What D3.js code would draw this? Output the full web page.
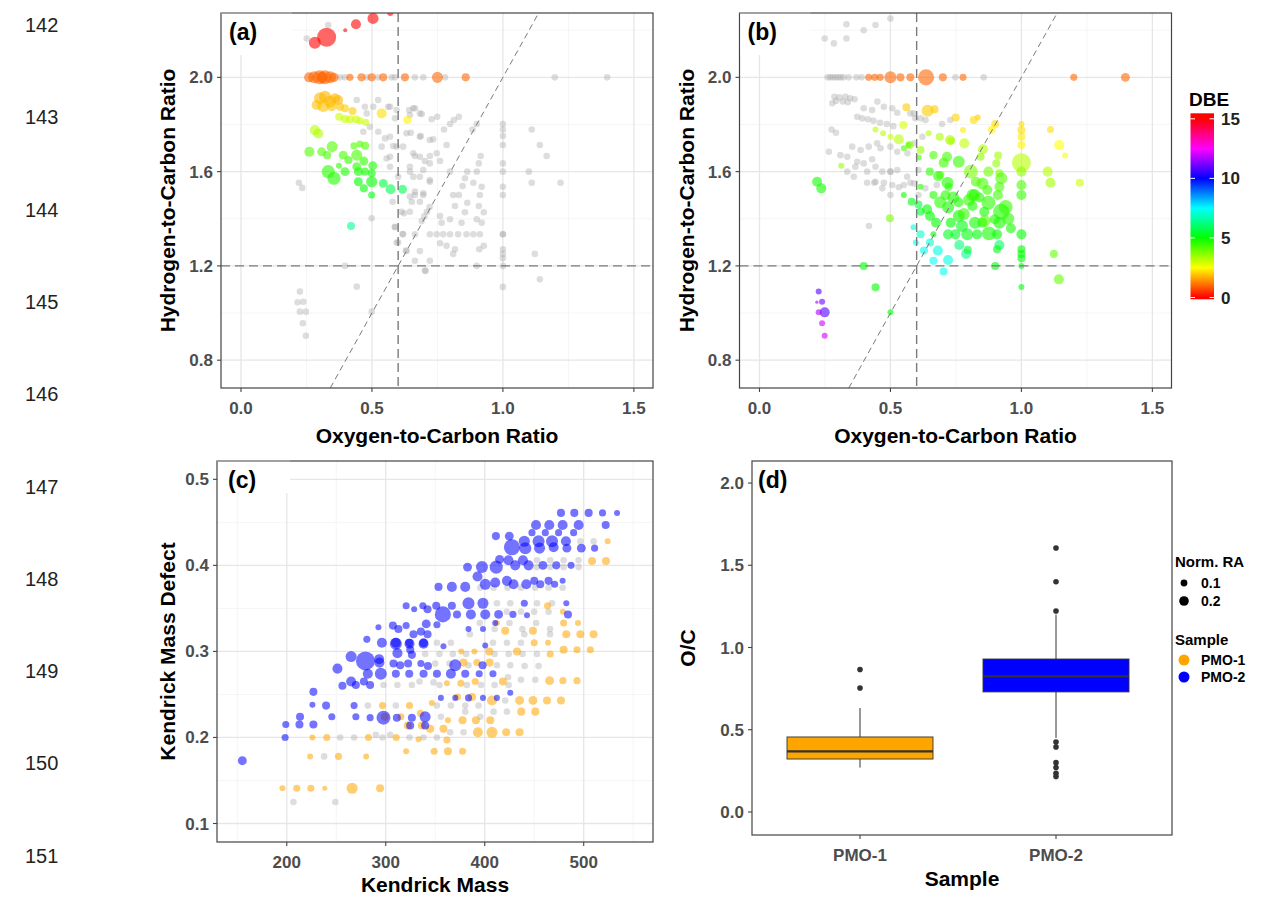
<!DOCTYPE html>
<html><head><meta charset="utf-8">
<script src="https://cdn.jsdelivr.net/npm/d3@7"></script>
<style>
body{margin:0;background:#fff;}
svg{display:block;font-family:"Liberation Sans",Arial,Helvetica,sans-serif;}
</style>
</head><body>
<svg id="fig" width="1269" height="898"></svg>
<script>
// ---------- manuscript line numbers ----------
const lineNumbers = [142, 143, 144, 145, 146, 147, 148, 149, 150, 151];

// ---------- (a) PMO-1 van Krevelen: [O/C, H/C] formulas shared with PMO-2 ----------
const sharedA = [
  [0.378,2.0],[0.397,2.0],[0.48,2.0],[0.523,2.0],[0.575,2.0],[0.588,2.0],[0.664,2.0],[0.696,2.0],[0.779,2.0],[1.198,2.0],[1.398,2.0],
  [0.333,2.222],[0.251,2.165],
  [0.562,1.875],[0.642,1.861],[0.664,1.869],[0.69,1.844],[0.749,1.833],[0.728,1.822],[0.832,1.833],[0.813,1.819],[0.798,1.802],[0.775,1.779],
  [0.9,1.802],[0.884,1.779],[1.0,1.802],[1.0,1.779],[1.0,1.751],[1.0,1.713],[1.11,1.779],[1.141,1.713],[1.167,1.666],[0.915,1.666],[0.908,1.635],
  [0.864,1.6],[0.9,1.6],[1.099,1.6],[1.11,1.553],[1.22,1.553],[1.0,1.635],[1.0,1.6],[1.0,1.536],[1.0,1.501],[0.919,1.536],[0.887,1.553],
  [0.855,1.572],[0.846,1.539],[0.81,1.501],[0.832,1.501],[0.912,1.501],[0.785,1.713],[0.721,1.666],[0.76,1.645],[0.734,1.737],[0.686,1.751],
  [0.648,1.765],[0.619,1.706],[0.581,1.709],[0.55,1.741],[0.569,1.663],[0.645,1.6],[0.683,1.578],[0.721,1.557],[0.664,1.666],[0.702,1.645],[0.798,1.6],
  [0.864,1.468],[0.908,1.454],[0.927,1.428],[0.817,1.454],[0.855,1.428],[0.76,1.412],[0.766,1.383],[0.798,1.398],[0.842,1.383],[0.9,1.398],
  [0.919,1.383],[0.696,1.501],[0.664,1.501],[0.652,1.472],[0.683,1.472],[0.645,1.43],[0.613,1.43],[0.588,1.366],[0.619,1.334],[0.664,1.334],
  [0.721,1.334],[0.747,1.334],[0.772,1.334],[0.798,1.334],[0.829,1.334],[0.861,1.334],[0.887,1.334],[0.912,1.334],[1.0,1.334],[1.0,1.334],
  [0.76,1.296],[0.785,1.285],[0.817,1.271],[0.81,1.251],[0.91,1.271],[0.927,1.285],[1.0,1.271],[1.0,1.251],[1.0,1.232],[1.122,1.251],
  [0.683,1.263],[0.632,1.263],[0.594,1.299],[0.664,1.222],[0.721,1.222],[0.705,1.179],[0.9,1.2],[1.0,1.2],[1.141,1.143],[1.0,1.111],
  [0.221,1.553],[0.234,1.531],[0.499,1.402],[0.579,1.472],[0.588,1.364],[0.6,1.299],[0.617,1.335],[0.63,1.265],[0.397,1.2],[0.442,1.112],
  [0.499,1.006],[0.225,1.091],[0.216,1.046],[0.238,1.048],[0.225,1.006],[0.248,1.006],[0.236,0.957],[0.248,0.904],[0.622,1.423],[0.702,1.18],
  [0.442,1.904],[0.473,1.875],[0.505,1.875],[0.569,1.875],[0.658,1.869],[0.683,1.847],[0.645,1.84],[0.588,1.826],[0.492,1.79],[0.524,1.769],
  [0.569,1.748],[0.467,1.769],[0.594,1.706],[0.632,1.763],[0.683,1.748],[0.658,1.678],[0.721,1.734],[0.683,1.663],[0.721,1.635],[0.747,1.678],
  [0.645,1.621],[0.696,1.607],[0.556,1.656],[0.537,1.706],[0.569,1.621],[0.6,1.578],[0.658,1.578],[0.721,1.564],[0.664,1.515],[0.696,1.508],
  [0.645,1.494],[0.48,1.847],[0.524,1.904],[0.594,1.861],[0.69,1.39],[0.70,1.41],[0.71,1.43],[0.72,1.45]
];
// (a) formulas unique to PMO-1: [O/C, H/C, normalised RA, DBE]
const uniqueA = [
  [0.504,2.25,0.17,0],[0.439,2.225,0.14,0],[0.398,2.2,0.022,0],[0.327,2.17,0.5,0],[0.282,2.147,0.2,0],[0.57,2.273,0.05,0],
  [0.26,2.0,0.14,1],[0.28,2.0,0.2,1],[0.30,2.0,0.27,1],[0.31,2.0,0.17,1],[0.32,2.0,0.27,1],[0.34,2.0,0.2,1],[0.355,2.0,0.12,1],
  [0.416,2.0,0.07,1],[0.46,2.0,0.09,1],[0.499,2.0,0.09,1],[0.543,2.0,0.09,1],[0.626,2.0,0.09,1],[0.75,2.0,0.17,1],[0.858,2.0,0.09,1],
  [0.302,1.911,0.2,1.8],[0.321,1.918,0.2,1.8],[0.359,1.911,0.14,1.8],[0.34,1.897,0.2,1.8],[0.371,1.904,0.14,1.8],[0.289,1.883,0.14,1.9],
  [0.314,1.878,0.2,1.9],[0.346,1.878,0.14,1.9],[0.378,1.875,0.09,1.9],[0.397,1.869,0.09,2],[0.426,1.857,0.09,2],[0.537,1.847,0.14,2.2],[0.635,1.819,0.09,2.4],
  [0.375,1.833,0.09,3],[0.397,1.823,0.09,3],[0.416,1.822,0.09,3],[0.439,1.822,0.09,3],[0.454,1.816,0.07,3],[0.476,1.809,0.07,3],
  [0.282,1.776,0.14,3.2],[0.295,1.762,0.14,3.3],
  [0.261,1.684,0.14,4.2],[0.308,1.684,0.11,4.2],[0.348,1.706,0.17,4.2],[0.329,1.67,0.09,4.3],[0.39,1.67,0.11,4.3],[0.41,1.649,0.09,4.5],
  [0.442,1.67,0.17,4.3],[0.431,1.71,0.07,4.2],[0.454,1.717,0.07,4.2],[0.474,1.71,0.09,4.2],[0.469,1.645,0.11,4.5],[0.442,1.621,0.11,4.6],
  [0.374,1.625,0.05,4.6],[0.333,1.6,0.24,4.6],[0.355,1.572,0.24,4.7],[0.397,1.6,0.11,4.7],[0.503,1.625,0.11,4.7],[0.448,1.6,0.11,4.8],
  [0.473,1.6,0.09,4.8],[0.499,1.593,0.09,4.9],[0.499,1.557,0.17,5],[0.448,1.557,0.11,5],[0.469,1.529,0.09,5],[0.499,1.501,0.07,5.2],
  [0.543,1.55,0.11,5.6],[0.571,1.525,0.14,5.8],[0.617,1.525,0.11,5.8],
  [0.42,1.369,0.09,6.5]
];

// ---------- (b) PMO-2 van Krevelen ----------
const sharedB = [
  [0.249,2.165],[0.284,2.144],[0.332,2.225],[0.332,2.165],[0.398,2.2],[0.443,2.222],[0.5,2.25],
  [0.26,2.0],[0.27,2.0],[0.28,2.0],[0.29,2.0],[0.30,2.0],[0.31,2.0],[0.32,2.0],[0.34,2.0],[0.37,2.0],[0.39,2.0],[0.748,2.0],[0.856,2.0],
  [0.286,1.918],[0.305,1.915],[0.328,1.918],[0.346,1.911],[0.363,1.907],[0.292,1.9],[0.318,1.897],[0.337,1.894],[0.278,1.89],
  [0.398,1.869],[0.43,1.861],[0.45,1.897],[0.475,1.875],[0.507,1.869],[0.526,1.85],[0.59,1.847],[0.615,1.826],
  [0.373,1.833],[0.392,1.826],[0.414,1.822],[0.435,1.816],[0.46,1.807],[0.486,1.802],[0.511,1.793],
  [0.275,1.779],[0.292,1.765],
  [0.265,1.684],[0.309,1.67],[0.335,1.663],[0.354,1.706],[0.386,1.692],[0.417,1.706],[0.449,1.72],[0.462,1.699],[0.5,1.706],[0.526,1.684],
  [0.335,1.6],[0.366,1.621],[0.398,1.635],[0.43,1.652],[0.411,1.6],[0.443,1.621],[0.469,1.6],[0.5,1.6],[0.5,1.6],[0.526,1.607],[0.36,1.578],
  [0.443,1.557],[0.475,1.553],[0.507,1.543],[0.469,1.529],[0.5,1.501],[0.411,1.553],[0.373,1.642],
  [0.418,1.369],[0.438,1.553],[0.532,1.534],[0.551,1.543],[0.576,1.553],[0.607,1.501],[0.633,1.529],[0.677,1.543],
  [0.576,1.847],[0.595,1.826],[0.634,1.819],[0.697,1.802],[0.729,1.819],[0.622,1.748],[0.59,1.72],[0.565,1.678],[0.607,1.607],[0.564,1.578],[0.59,1.55]
];
// (b) formulas unique to PMO-2: [O/C, H/C, normalised RA, DBE]
const uniqueB = [
  [0.417,2.0,0.07,1],[0.44,2.0,0.07,1],[0.461,2.0,0.07,1],[0.5,2.0,0.2,1],[0.538,2.0,0.09,1],[0.576,2.0,0.09,1],[0.636,2.0,0.36,1],
  [0.7,2.0,0.09,1],[0.777,2.0,0.07,1],[1.2,2.0,0.07,1],[1.397,2.0,0.11,1],
  [0.561,1.873,0.09,2],[0.642,1.858,0.2,2],[0.668,1.864,0.09,2],[0.749,1.83,0.09,2.1],[0.777,1.777,0.05,2.3],[0.833,1.83,0.05,2],
  [0.818,1.819,0.09,2.2],[0.9,1.802,0.09,2.2],[0.887,1.779,0.09,2.4],[1.0,1.802,0.05,2.2],[1.0,1.777,0.09,2.2],[1.0,1.748,0.09,2.3],
  [1.0,1.713,0.09,2.4],[1.111,1.779,0.07,2.2],[1.144,1.713,0.14,2.5],[1.167,1.668,0.05,2.6],[1.223,1.553,0.09,3],
  [0.549,1.798,0.09,2.9],[0.443,1.779,0.05,3.2],[0.472,1.763,0.05,3.2],[0.5,1.748,0.05,3],[0.532,1.737,0.14,3.2],[0.551,1.699,0.05,4.3],
  [0.573,1.713,0.09,3.5],[0.615,1.692,0.09,3.5],[0.646,1.763,0.05,3.2],[0.688,1.748,0.09,3.3],[0.727,1.734,0.14,3.2],[0.782,1.72,0.14,3.1],
  [0.731,1.731,0.09,3.4],[0.312,1.625,0.05,3.5],
  [1.0,1.638,0.5,3.2],
  [1.1,1.6,0.14,3.2],[1.111,1.553,0.14,3.4],[1.0,1.6,0.14,3.6],[1.0,1.543,0.14,4.3],[1.0,1.501,0.14,4.5],[0.911,1.668,0.09,3.4],
  [0.904,1.635,0.09,3.6],[0.916,1.593,0.09,3.8],[0.923,1.572,0.2,4.2],[0.916,1.536,0.14,4.3],[0.91,1.501,0.14,4.4],[0.874,1.6,0.14,3.9],
  [0.853,1.695,0.14,3.3],[0.844,1.663,0.09,3.6],[0.851,1.55,0.2,4.3],[0.87,1.522,0.14,4.4],[0.813,1.501,0.2,4.5],[0.826,1.557,0.14,4.2],[0.807,1.6,0.27,3.8],
  [0.664,1.67,0.09,4.3],[0.716,1.663,0.14,4.4],[0.761,1.642,0.2,4.5],[0.703,1.638,0.14,4.4],[0.65,1.6,0.09,4.6],[0.682,1.581,0.14,4.6],
  [0.718,1.553,0.2,4.7],[0.22,1.557,0.14,4.8],[0.236,1.529,0.14,4.8],[0.551,1.501,0.05,4.9],[0.615,1.536,0.05,4.6],[0.664,1.501,0.09,4.7],
  [0.722,1.536,0.09,4.6],[0.69,1.586,0.09,4.4],[0.608,1.66,0.05,4.4],[0.569,1.713,0.05,4.2],
  [0.874,1.468,0.27,4.6],[0.923,1.43,0.36,4.7],[0.916,1.383,0.2,4.8],[0.898,1.398,0.14,4.7],[0.858,1.43,0.14,4.8],[0.851,1.383,0.14,4.9],
  [0.821,1.501,0.2,4.7],[0.813,1.454,0.14,4.8],[0.761,1.412,0.2,4.9],[0.823,1.383,0.2,4.9],[0.73,1.383,0.14,5],[0.773,1.369,0.2,5.2],
  [0.72,1.334,0.14,5.3],[0.748,1.334,0.14,5.3],[0.793,1.334,0.2,5.2],[0.831,1.334,0.14,5.1],[0.876,1.338,0.27,4.8],[0.907,1.334,0.14,5],
  [1.0,1.334,0.14,5],[0.763,1.289,0.14,6.2],[0.789,1.251,0.14,6.4],[0.795,1.268,0.09,5.4],[0.916,1.289,0.14,6],[0.907,1.271,0.09,5.2],
  [1.0,1.271,0.09,5],[1.0,1.251,0.09,5],[1.0,1.232,0.09,5.1],[0.9,1.2,0.09,5.1],[1.0,1.2,0.05,5.2],[1.124,1.251,0.09,4],[1.143,1.143,0.14,4],[1.0,1.111,0.05,5.2],
  [0.72,1.225,0.14,7.2],[0.703,1.176,0.09,7.3],[0.664,1.222,0.09,7.4],[0.681,1.265,0.14,7.2],[0.628,1.265,0.09,7.3],[0.615,1.334,0.09,7],
  [0.597,1.299,0.05,7.4],[0.588,1.364,0.05,7.2],[0.651,1.299,0.09,7.1],
  [0.674,1.383,0.14,5],[0.72,1.449,0.2,4.8],[0.651,1.412,0.14,5],[0.615,1.43,0.09,5.4],[0.581,1.472,0.09,5.2],[0.498,1.402,0.09,3.8],
  [0.398,1.2,0.09,5],[0.443,1.109,0.09,5],[0.5,1.003,0.05,5],[0.664,1.334,0.05,5],[0.607,1.46,0.09,5.5],[0.64,1.44,0.14,5],
  [0.69,1.47,0.2,4.6],[0.71,1.5,0.14,4.6],[0.74,1.49,0.2,4.7],[0.76,1.47,0.14,4.7],[0.78,1.42,0.2,4.5],[0.8,1.48,0.2,4.5],
  [0.84,1.49,0.14,4.6],[0.86,1.39,0.2,4.2],[0.94,1.45,0.27,4.5],[0.95,1.40,0.2,4.6],[0.96,1.36,0.14,4.8],
  [0.226,1.091,0.05,10.8],[0.239,1.048,0.05,11],[0.219,1.046,0.015,11.5],[0.249,1.003,0.14,10.8],[0.226,1.003,0.05,11.7],[0.239,0.957,0.05,12],[0.249,0.904,0.05,12]
];

// ---------- (c) Kendrick mass vs. defect: [KM, KMD] shared, [KM, KMD, RA] per sample ----------
const kendrickShared = [
  [206.7,0.125],[249.1,0.125],[237.7,0.178],[253.9,0.2],[268,0.2],[296.7,0.2],[304.5,0.203],[324,0.2],[338.1,0.2],[351.7,0.2],[290,0.203],
  [365.1,0.206],[378.6,0.206],[281.9,0.237],[310.2,0.237],[351.7,0.237],[365.8,0.237],[380.3,0.237],[393.7,0.237],[355.7,0.224],[395.5,0.224],
  [380.3,0.23],[408.9,0.23],[422.5,0.23],[420.7,0.243],[297.7,0.261],[311.8,0.261],[326.4,0.261],[334.1,0.265],[348.2,0.264],[354.3,0.261],
  [382,0.261],[396.2,0.261],[409.9,0.261],[424.1,0.261],[436.6,0.267],[451.1,0.267],[350,0.286],[364.4,0.286],[383.6,0.284],[412.3,0.284],
  [425.8,0.284],[440.3,0.283],[454.4,0.283],[339.8,0.297],[354.3,0.297],[367.8,0.297],[381.3,0.297],[409.9,0.297],[424.1,0.297],[438.2,0.297],
  [452.8,0.297],[351.7,0.31],[365.8,0.31],[408.3,0.31],[422.5,0.31],[436.6,0.31],[423.5,0.27],
  [412.3,0.356],[425.8,0.356],[452.8,0.356],[468,0.356],[422.4,0.346],[436.6,0.346],[450,0.346],[464.5,0.346],
  [395.5,0.374],[408.9,0.374],[423,0.374],[436.6,0.374],[451,0.374],[464.5,0.374],[478.7,0.374],
  [452.8,0.406],[466.2,0.406],[479.7,0.406],[494.8,0.406],[452.8,0.398],[466.2,0.398],[479.7,0.398],[494.8,0.398],
  [496.6,0.428],[510,0.428],
  [395,0.333],[410,0.326],[425,0.333],[438,0.326],[452,0.333],[466,0.326],[385,0.32],[440,0.32],[466,0.32]
];
const kendrickPMO1 = [
  [524.2,0.428,0.05],[508.4,0.405,0.09],[522.5,0.405,0.09],[463.5,0.353,0.07],[479,0.346,0.05],[412.3,0.333,0.05],[420.7,0.324,0.09],
  [448.7,0.324,0.09],[479.7,0.333,0.07],[494.2,0.333,0.05],[482.4,0.32,0.09],[496.6,0.32,0.09],[510,0.32,0.09],[450,0.31,0.07],
  [463.9,0.31,0.05],[479.7,0.302,0.09],[493.2,0.302,0.07],[506.7,0.302,0.07],[376.3,0.3,0.05],[389.6,0.3,0.05],[404.5,0.3,0.09],[432.6,0.3,0.09],
  [195.6,0.141,0.05],[210.1,0.141,0.07],[224.3,0.141,0.07],[238.4,0.141,0.035],[266,0.141,0.17],[294.3,0.141,0.09],[223.6,0.178,0.05],
  [252.2,0.178,0.07],[280.2,0.178,0.05],[225.9,0.2,0.05],[240.4,0.2,0.07],[282.5,0.2,0.07],[310.5,0.2,0.07],[333.1,0.198,0.05],
  [361.8,0.197,0.07],[320.6,0.184,0.05],[348.9,0.184,0.07],[362.8,0.184,0.09],[377.6,0.184,0.07],[296.7,0.237,0.07],[324,0.237,0.07],
  [315.3,0.224,0.07],[344.9,0.21,0.09],[358.3,0.21,0.09],[362.8,0.22,0.05],[377.6,0.22,0.09],[391.1,0.22,0.09],[405.6,0.22,0.09],
  [393.1,0.206,0.14],[407.3,0.206,0.17],[421.7,0.206,0.09],[435.2,0.206,0.09],[407.3,0.243,0.14],[435.2,0.243,0.11],[448.7,0.243,0.11],
  [462.9,0.243,0.09],[477,0.243,0.09],[436.9,0.23,0.09],[451.1,0.23,0.09],[418.4,0.265,0.09],[465.5,0.266,0.11],[479,0.266,0.07],
  [493.2,0.266,0.07],[404.9,0.287,0.09],[466.2,0.297,0.07],[378.6,0.287,0.09],[392.1,0.287,0.07],[346.6,0.24,0.05],
  [372.5,0.247,0.07],[387.1,0.247,0.09],[361.8,0.263,0.05],[375.9,0.263,0.07],[390.4,0.265,0.07],[322.3,0.214,0.09],[336.5,0.214,0.09],
  [299,0.224,0.09],[335,0.228,0.07]
];
const kendrickPMO2 = [
  [477,0.461,0.09],[490.5,0.461,0.09],[505,0.461,0.09],[519,0.461,0.07],[533.7,0.461,0.05],
  [451.8,0.447,0.14],[465.2,0.447,0.14],[478.7,0.447,0.14],[494.9,0.447,0.14],[522.2,0.447,0.09],
  [447.7,0.438,0.07],[461.2,0.438,0.07],[474.6,0.438,0.07],[489.8,0.438,0.07],[411.3,0.434,0.09],[424.8,0.434,0.11],
  [427.5,0.421,0.36],[440,0.428,0.17],[441,0.42,0.2],[454.4,0.428,0.2],[455.4,0.42,0.17],[468,0.428,0.2],[469.6,0.421,0.14],
  [482,0.428,0.14],[483,0.42,0.11],[497.6,0.42,0.11],[511,0.42,0.07],
  [382.6,0.398,0.11],[397.2,0.398,0.2],[411.6,0.398,0.24],[415,0.407,0.11],[424,0.406,0.14],[430.8,0.4,0.14],[438.6,0.406,0.14],
  [444.3,0.4,0.14],[458.8,0.4,0.11],[472.3,0.4,0.09],[487.2,0.4,0.07],
  [353.3,0.375,0.09],[366.8,0.375,0.14],[380.3,0.375,0.14],[392.7,0.387,0.14],[400.5,0.378,0.17],[410.6,0.38,0.14],[422.4,0.382,0.14],
  [429.1,0.378,0.14],[442,0.378,0.14],[450,0.382,0.09],[456.1,0.378,0.09],[464.5,0.382,0.09],[470.6,0.378,0.07],[478.7,0.382,0.05],
  [320.6,0.353,0.07],[328.7,0.349,0.05],[337.5,0.353,0.07],[342.2,0.349,0.09],[351,0.353,0.09],[357.7,0.343,0.36],[366.8,0.353,0.09],
  [372,0.343,0.09],[383.6,0.356,0.2],[386,0.343,0.14],[398.2,0.356,0.17],[400.5,0.343,0.14],[414,0.343,0.11],[428.5,0.343,0.07],
  [440,0.356,0.07],[442.7,0.342,0.05],[482.4,0.356,0.05],[484.1,0.343,0.09],
  [383.6,0.326,0.05],[398.2,0.326,0.05],[410.6,0.333,0.05],
  [292.6,0.328,0.05],[307.2,0.33,0.09],[312.8,0.326,0.09],[320.6,0.33,0.07],[280.9,0.314,0.07],[296.1,0.31,0.14],[310.2,0.31,0.14],
  [323.7,0.31,0.09],[328,0.32,0.09],[335.5,0.323,0.09],[340.9,0.332,0.11],[342.2,0.32,0.09],[338.2,0.31,0.11],[351.7,0.331,0.07],
  [265,0.294,0.17],[279.5,0.289,0.5],[293.3,0.291,0.14],[311.8,0.298,0.14],[324.7,0.302,0.09],
  [251.2,0.28,0.14],[265,0.265,0.14],[256.2,0.26,0.09],[269.8,0.261,0.09],[277.9,0.265,0.09],[284.2,0.261,0.09],[281.9,0.274,0.14],
  [295,0.274,0.2],[293.6,0.287,0.14],[307.8,0.286,0.09],[310.2,0.274,0.09],[310.2,0.309,0.2],[324,0.309,0.14],
  [326.4,0.296,0.09],[314.6,0.284,0.09],[322.6,0.286,0.09],[323.7,0.274,0.09],[335.5,0.286,0.07],[338.2,0.274,0.09],[342.6,0.283,0.09],
  [338.2,0.309,0.14],[351.7,0.274,0.09],[365.8,0.274,0.14],[370.2,0.284,0.2],[380.3,0.274,0.09],[394.4,0.274,0.07],[408.3,0.274,0.07],
  [397.8,0.284,0.09],[358.3,0.306,0.05],[400.5,0.307,0.05],
  [226.9,0.253,0.09],[225.9,0.238,0.05],[239.7,0.237,0.09],[245.5,0.224,0.07],[213.4,0.224,0.09],[199,0.215,0.07],[212.8,0.215,0.09],
  [226.9,0.215,0.09],[198.3,0.2,0.07],[155.1,0.173,0.11],
  [268,0.237,0.07],[269.8,0.224,0.07],[284.2,0.223,0.07],[297.7,0.223,0.27],[311.2,0.223,0.09],[326.4,0.223,0.09],[339.8,0.224,0.17],
  [339.8,0.214,0.09],[324.7,0.214,0.09],[355.7,0.246,0.05],[370.2,0.246,0.05],[383.6,0.246,0.07],[398.2,0.246,0.05],[412.3,0.246,0.05],[425.8,0.252,0.05]
];

// ---------- (d) O/C distribution per sample ----------
const samples = ["PMO-1", "PMO-2"];
const boxLow    = [0.27, 0.45];
const boxQ1     = [0.322, 0.73];
const boxMedian = [0.368, 0.825];
const boxQ3     = [0.456, 0.93];
const boxHigh   = [0.632, 1.20];
const boxOutliers = [
  [0.754, 0.866],
  [1.222, 1.40, 1.605, 0.425, 0.395, 0.30, 0.27, 0.235, 0.215]
];
const sampleColors = ["#ffa500", "#0000ff"];

// ---------- shared scales / constants ----------
const sharedRA = 0.06;               // size used for formulas common to both samples
const raLegend = [0.1, 0.2];
const dbeTicks = [0, 5, 10, 15];
const ocLimit = 0.6, hcLimit = 1.2, hcPerOc = 2; // reference lines

const svg = d3.select("#fig");
const size = d3.scaleSqrt().domain([0, 0.5]).range([0, 9.5]);
const dbeColor = d => d3.hsl(d * 24, 1, 0.5).toString();
const fmt1 = d3.format(".1f");

// line numbers down the left margin
svg.append("g").selectAll("text").data(lineNumbers).join("text")
  .attr("x", 25).attr("y", (d, i) => 32 + i * 92.3)
  .attr("font-size", 20).attr("fill", "#222").text(d => d);

let clipId = 0;
function panel(o) {
  const g = svg.append("g");
  const [x0, x1] = o.x.range(), [y1, y0] = o.y.range();
  g.append("rect").attr("x", x0).attr("y", y0).attr("width", x1 - x0).attr("height", y1 - y0).attr("fill", "#fff");
  if (o.grid !== false) {
    g.selectAll(".mnx").data(o.xMinor).join("line").attr("x1", o.x).attr("x2", o.x).attr("y1", y0).attr("y2", y1)
      .attr("stroke", "#f2f2f2").attr("stroke-width", 0.8);
    g.selectAll(".mny").data(o.yMinor).join("line").attr("y1", o.y).attr("y2", o.y).attr("x1", x0).attr("x2", x1)
      .attr("stroke", "#f2f2f2").attr("stroke-width", 0.8);
    g.selectAll(".mjx").data(o.xMajor).join("line").attr("x1", o.x).attr("x2", o.x).attr("y1", y0).attr("y2", y1)
      .attr("stroke", "#e6e6e6").attr("stroke-width", 1.3);
    g.selectAll(".mjy").data(o.yMajor).join("line").attr("y1", o.y).attr("y2", o.y).attr("x1", x0).attr("x2", x1)
      .attr("stroke", "#e6e6e6").attr("stroke-width", 1.3);
  }
  const id = "clip" + (clipId++);
  g.append("clipPath").attr("id", id).append("rect").attr("x", x0).attr("y", y0).attr("width", x1 - x0).attr("height", y1 - y0);
  const plot = g.append("g").attr("clip-path", `url(#${id})`);
  const top = g.append("g");
  // border
  top.append("rect").attr("x", x0).attr("y", y0).attr("width", x1 - x0).attr("height", y1 - y0)
    .attr("fill", "none").attr("stroke", "#444").attr("stroke-width", 1.2);
  // ticks
  const xt = o.xTicks || o.xMajor;
  top.selectAll(".tx").data(xt).join("line").attr("x1", o.xPos || o.x).attr("x2", o.xPos || o.x)
    .attr("y1", y1).attr("y2", y1 + 4).attr("stroke", "#444").attr("stroke-width", 1.1);
  top.selectAll(".ty").data(o.yMajor).join("line").attr("y1", o.y).attr("y2", o.y)
    .attr("x1", x0 - 4).attr("x2", x0).attr("stroke", "#444").attr("stroke-width", 1.1);
  top.selectAll(".lx").data(xt).join("text").attr("x", o.xPos || o.x).attr("y", y1 + 26)
    .attr("text-anchor", "middle").attr("font-size", 17).attr("font-weight", "bold").attr("fill", "#4d4d4d")
    .text(o.xFmt);
  top.selectAll(".ly").data(o.yMajor).join("text").attr("x", x0 - 8).attr("y", d => o.y(d) + 6)
    .attr("text-anchor", "end").attr("font-size", 17).attr("font-weight", "bold").attr("fill", "#4d4d4d")
    .text(o.yFmt);
  top.append("text").attr("x", (x0 + x1) / 2).attr("y", o.xTitleY).attr("text-anchor", "middle")
    .attr("font-size", 21).attr("font-weight", "bold").attr("fill", "#000").text(o.xTitle);
  top.append("text").attr("transform", `translate(${o.yTitleX},${(y0 + y1) / 2}) rotate(-90)`).attr("text-anchor", "middle")
    .attr("font-size", 21).attr("font-weight", "bold").attr("fill", "#000").text(o.yTitle);
  // panel tag with its white backing
  if (o.tagBox) {
    top.append("rect").attr("x", x0 + 1).attr("y", y0 + 1).attr("width", o.tagBox[0]).attr("height", o.tagBox[1]).attr("fill", "#fff");
    top.append("line").attr("x1", x0).attr("x2", x0 + o.tagBox[0] + 1).attr("y1", y0).attr("y2", y0)
      .attr("stroke", "#b5b5b5").attr("stroke-width", 1.2);
  }
  top.append("text").attr("x", x0 + o.tagDx).attr("y", y0 + 27).attr("font-size", 23).attr("font-weight", "bold")
    .attr("fill", "#000").text(o.tag);
  return { plot, top, x0, x1, y0, y1 };
}

function vanKrevelen(xRange, shared, unique, tag) {
  const x = d3.scaleLinear().domain([-0.0763, 1.573]).range(xRange);
  const y = d3.scaleLinear().domain([0.682, 2.273]).range([388, 13]);
  const p = panel({
    x, y, xMajor: [0, 0.5, 1, 1.5], xMinor: [0.25, 0.75, 1.25], yMajor: [0.8, 1.2, 1.6, 2.0], yMinor: [1.0, 1.4, 1.8, 2.2],
    xFmt: fmt1, yFmt: fmt1, xTitle: "Oxygen-to-Carbon Ratio", yTitle: "Hydrogen-to-Carbon Ratio",
    xTitleY: 443, yTitleX: xRange[0] - 46, tag, tagDx: 8, tagBox: [70, 41]
  });
  p.plot.selectAll(".s").data(shared).join("circle").attr("cx", d => x(d[0])).attr("cy", d => y(d[1]))
    .attr("r", size(sharedRA)).attr("fill", "#a6a6a6").attr("fill-opacity", 0.38);
  p.plot.selectAll(".u").data(unique).join("circle").attr("cx", d => x(d[0])).attr("cy", d => y(d[1]))
    .attr("r", d => size(d[2])).attr("fill", d => dbeColor(d[3])).attr("fill-opacity", 0.6);
  const dash = p.plot.append("g").attr("stroke", "#7a7a7a").attr("fill", "none");
  dash.append("line").attr("x1", p.x0).attr("x2", p.x1).attr("y1", y(hcLimit)).attr("y2", y(hcLimit))
    .attr("stroke-width", 1.4).attr("stroke-dasharray", "9,5");
  dash.append("line").attr("x1", x(ocLimit)).attr("x2", x(ocLimit)).attr("y1", p.y0).attr("y2", p.y1)
    .attr("stroke-width", 1.4).attr("stroke-dasharray", "9,5");
  const yLo = y.domain()[0], yHi = y.domain()[1];
  dash.append("line").attr("x1", x(yLo / hcPerOc)).attr("y1", y(yLo)).attr("x2", x(yHi / hcPerOc)).attr("y2", y(yHi))
    .attr("stroke-width", 1).attr("stroke-dasharray", "6,4");
}
vanKrevelen([221, 653], sharedA, uniqueA, "(a)");
vanKrevelen([739.5, 1171.5], sharedB, uniqueB, "(b)");

// DBE colour bar
{
  const yb = d3.scaleLinear().domain([0, 15]).range([297.5, 118.8]);
  const defs = svg.append("defs");
  const grad = defs.append("linearGradient").attr("id", "dbeGrad").attr("gradientUnits", "userSpaceOnUse")
    .attr("x1", 0).attr("x2", 0).attr("y1", yb(0)).attr("y2", yb(15));
  d3.range(0, 15.01, 0.5).forEach(v => grad.append("stop").attr("offset", v / 15).attr("stop-color", dbeColor(v)));
  svg.append("rect").attr("x", 1190.5).attr("y", 113.3).attr("width", 23.5).attr("height", 186).attr("fill", "url(#dbeGrad)");
  const t = svg.append("g");
  t.selectAll(".a").data(dbeTicks).join("line").attr("x1", 1190.5).attr("x2", 1195).attr("y1", yb).attr("y2", yb).attr("stroke", "#fff").attr("stroke-width", 1);
  t.selectAll(".b").data(dbeTicks).join("line").attr("x1", 1209.5).attr("x2", 1214).attr("y1", yb).attr("y2", yb).attr("stroke", "#fff").attr("stroke-width", 1);
  t.selectAll("text").data(dbeTicks).join("text").attr("x", 1221).attr("y", d => yb(d) + 6)
    .attr("font-size", 17).attr("font-weight", "bold").attr("fill", "#222").text(d => d);
  svg.append("text").attr("x", 1189).attr("y", 106).attr("font-size", 19).attr("font-weight", "bold").text("DBE");
}

// (c) Kendrick plot
{
  const x = d3.scaleLinear().domain([129.5, 570]).range([217, 653]);
  const y = d3.scaleLinear().domain([0.0785, 0.5213]).range([842, 461]);
  const p = panel({
    x, y, xMajor: [200, 300, 400, 500], xMinor: [150, 250, 350, 450, 550], yMajor: [0.1, 0.2, 0.3, 0.4, 0.5],
    yMinor: [0.15, 0.25, 0.35, 0.45], xFmt: d => d, yFmt: fmt1, xTitle: "Kendrick Mass", yTitle: "Kendrick Mass Defect",
    xTitleY: 892, yTitleX: 175, tag: "(c)", tagDx: 11, tagBox: [72, 31]
  });
  p.plot.selectAll(".s").data(kendrickShared).join("circle").attr("cx", d => x(d[0])).attr("cy", d => y(d[1]))
    .attr("r", size(sharedRA)).attr("fill", "#a6a6a6").attr("fill-opacity", 0.38);
  p.plot.selectAll(".o").data(kendrickPMO1).join("circle").attr("cx", d => x(d[0])).attr("cy", d => y(d[1]))
    .attr("r", d => size(d[2])).attr("fill", sampleColors[0]).attr("fill-opacity", 0.55);
  p.plot.selectAll(".b").data(kendrickPMO2).join("circle").attr("cx", d => x(d[0])).attr("cy", d => y(d[1]))
    .attr("r", d => size(d[2])).attr("fill", sampleColors[1]).attr("fill-opacity", 0.55);
}

// (d) boxplots of O/C
{
  const x = d3.scalePoint().domain(samples).range([860, 1056]);
  const y = d3.scaleLinear().domain([-0.14, 2.134]).range([835, 461]);
  const lin = d3.scaleLinear().domain([0, 1]).range([752, 1172]);
  const p = panel({
    x: lin, y, grid: false, xMajor: [], xMinor: [], yMajor: [0, 0.5, 1.0, 1.5, 2.0], yMinor: [],
    xTicks: samples, xPos: x, xFmt: d => d, yFmt: fmt1, xTitle: "Sample", yTitle: "O/C",
    xTitleY: 886, yTitleX: 695, tag: "(d)", tagDx: 6
  });
  const bw = 146;
  samples.forEach((s, i) => {
    const cx = x(s);
    const gb = p.plot.append("g");
    gb.append("line").attr("x1", cx).attr("x2", cx).attr("y1", y(boxQ3[i])).attr("y2", y(boxHigh[i])).attr("stroke", "#333");
    gb.append("line").attr("x1", cx).attr("x2", cx).attr("y1", y(boxQ1[i])).attr("y2", y(boxLow[i])).attr("stroke", "#333");
    gb.append("rect").attr("x", cx - bw / 2).attr("width", bw).attr("y", y(boxQ3[i])).attr("height", y(boxQ1[i]) - y(boxQ3[i]))
      .attr("fill", sampleColors[i]).attr("stroke", "#333").attr("stroke-width", 0.9);
    gb.append("line").attr("x1", cx - bw / 2).attr("x2", cx + bw / 2).attr("y1", y(boxMedian[i])).attr("y2", y(boxMedian[i]))
      .attr("stroke", "#333").attr("stroke-width", 2.2);
    gb.selectAll("circle").data(boxOutliers[i]).join("circle").attr("cx", cx).attr("cy", y).attr("r", 2.8).attr("fill", "#333");
  });
  // legends
  const lg = svg.append("g").attr("font-weight", "bold");
  lg.append("text").attr("x", 1175).attr("y", 567).attr("font-size", 15).text("Norm. RA");
  raLegend.forEach((v, i) => {
    lg.append("circle").attr("cx", 1184).attr("cy", 583 + i * 18).attr("r", size(v) * 0.8).attr("fill", "#000");
    lg.append("text").attr("x", 1201).attr("y", 588 + i * 18).attr("font-size", 14).text(v);
  });
  lg.append("text").attr("x", 1175).attr("y", 645).attr("font-size", 15).text("Sample");
  samples.forEach((s, i) => {
    lg.append("circle").attr("cx", 1184).attr("cy", 660 + i * 17).attr("r", 5.5).attr("fill", sampleColors[i]);
    lg.append("text").attr("x", 1201).attr("y", 665 + i * 17).attr("font-size", 14).text(s);
  });
}
</script>
</body></html>
